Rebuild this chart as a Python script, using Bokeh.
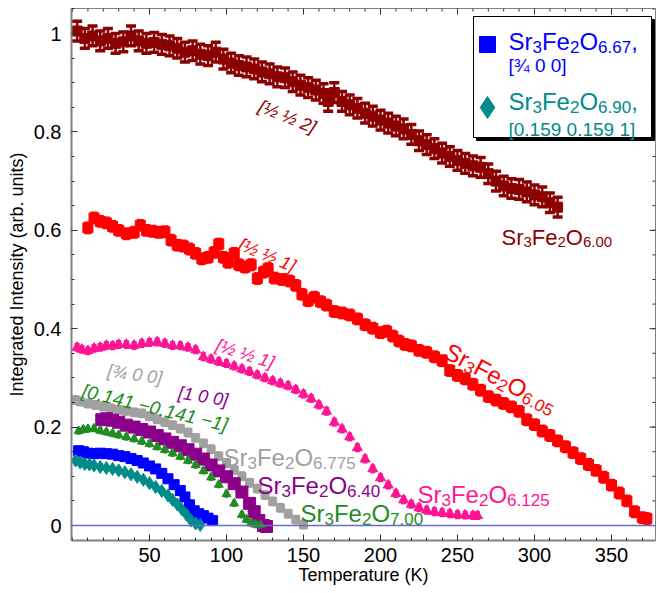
import math
from bokeh.plotting import figure
from bokeh.models import Range1d, FixedTicker, Span
from bokeh.core.properties import value
from bokeh.embed import file_html
from bokeh.resources import INLINE

# ---------------- data ----------------
t_600 = [3, 8, 13, 18, 23, 28, 33, 38, 43, 48, 53, 58, 63, 68, 73, 78, 83, 88, 93, 98,
         103, 108, 113, 118, 123, 128, 133, 138, 143, 148, 153, 158, 163, 166, 170, 175,
         180, 185, 190, 195, 200, 205, 210, 215, 220, 225, 230, 235, 240, 245, 250, 255,
         260, 265, 270, 275, 280, 285, 290, 295, 300, 305, 310, 315]
i_600 = [1.005, 0.99, 0.995, 0.985, 0.99, 0.98, 0.983, 0.995, 0.985, 0.98, 0.982, 0.978,
         0.975, 0.97, 0.962, 0.965, 0.958, 0.955, 0.962, 0.948, 0.94, 0.935, 0.932, 0.928,
         0.922, 0.918, 0.912, 0.91, 0.902, 0.895, 0.89, 0.885, 0.878, 0.862, 0.88, 0.862,
         0.855, 0.848, 0.838, 0.832, 0.824, 0.818, 0.812, 0.806, 0.795, 0.782, 0.774, 0.766,
         0.757, 0.75, 0.742, 0.736, 0.731, 0.728, 0.715, 0.70, 0.69, 0.685, 0.683, 0.678,
         0.672, 0.668, 0.656, 0.647]
e_600 = 0.02

t_605 = [10, 14, 18, 22, 26, 30, 35, 40, 44, 48, 52, 56, 60, 64, 68, 72, 76, 80, 84, 88,
         92, 95, 98, 101, 105, 108, 112, 116, 120, 124, 127, 131, 136, 141, 145, 149, 153,
         157, 161, 165, 170, 175, 180, 185, 190, 195, 200, 204, 208, 212, 216, 220, 225,
         230, 235, 240, 245, 250, 255, 260, 265, 270, 275, 280, 285, 290, 295, 300, 305,
         310, 315, 320, 325, 330, 335, 340, 345, 350, 355, 360, 365, 370, 373]
i_605 = [0.605, 0.625, 0.618, 0.615, 0.608, 0.600, 0.593, 0.596, 0.610, 0.600, 0.598,
         0.596, 0.597, 0.580, 0.570, 0.568, 0.562, 0.553, 0.542, 0.545, 0.555, 0.572,
         0.545, 0.535, 0.553, 0.530, 0.525, 0.530, 0.502, 0.515, 0.522, 0.503, 0.500,
         0.497, 0.488, 0.470, 0.457, 0.464, 0.455, 0.448, 0.435, 0.432, 0.428, 0.420,
         0.408, 0.401, 0.392, 0.395, 0.385, 0.375, 0.368, 0.365, 0.356, 0.352, 0.343,
         0.335, 0.315, 0.305, 0.298, 0.287, 0.275, 0.262, 0.255, 0.248, 0.241, 0.232,
         0.215, 0.205, 0.192, 0.183, 0.172, 0.160, 0.148, 0.136, 0.124, 0.112, 0.098,
         0.082, 0.066, 0.050, 0.028, 0.016, 0.014]
e_605 = 0.01

t_6125 = [3, 6, 10, 14, 18, 22, 26, 30, 35, 40, 45, 50, 55, 60, 65, 70, 75, 80, 85, 90,
          95, 100, 105, 110, 115, 120, 125, 130, 135, 140, 145, 150, 155, 160, 165, 170,
          175, 180, 185, 190, 195, 200, 205, 210, 215, 220, 225, 230, 235, 240, 245, 250,
          255, 260, 263]
i_6125 = [0.362, 0.358, 0.355, 0.360, 0.362, 0.366, 0.365, 0.368, 0.368, 0.366, 0.370,
          0.372, 0.373, 0.370, 0.366, 0.365, 0.362, 0.357, 0.343, 0.338, 0.333, 0.329,
          0.324, 0.318, 0.313, 0.306, 0.300, 0.294, 0.289, 0.284, 0.276, 0.267, 0.258,
          0.245, 0.232, 0.210, 0.196, 0.180, 0.158, 0.135, 0.115, 0.097, 0.082, 0.065,
          0.052, 0.043, 0.036, 0.031, 0.028, 0.026, 0.024, 0.022, 0.021, 0.020, 0.020]
e_6125 = 0.006

t_6775 = [2, 5, 10, 15, 20, 25, 30, 35, 40, 45, 50, 55, 60, 65, 70, 75, 80, 85, 90, 95,
          100, 105, 110, 115, 120, 125, 130, 135, 140, 145, 150]
i_6775 = [0.255, 0.252, 0.248, 0.245, 0.242, 0.238, 0.235, 0.233, 0.230, 0.228, 0.222,
          0.216, 0.210, 0.204, 0.197, 0.189, 0.178, 0.167, 0.155, 0.141, 0.127, 0.113,
          0.100, 0.087, 0.075, 0.062, 0.049, 0.036, 0.024, 0.012, 0.002]
e_6775 = 0.007

t_640 = [19, 22, 26, 30, 35, 40, 45, 50, 55, 60, 65, 70, 75, 80, 85, 90, 95, 100, 105,
         110, 115, 118, 121, 124, 126]
i_640 = [0.215, 0.217, 0.214, 0.210, 0.204, 0.200, 0.195, 0.190, 0.183, 0.176, 0.169,
         0.162, 0.154, 0.145, 0.135, 0.123, 0.111, 0.099, 0.085, 0.068, 0.045, 0.028,
         0.010, 0.000, -0.002]

t_700 = [4, 7, 10, 14, 18, 22, 26, 30, 35, 40, 45, 50, 55, 60, 65, 70, 75, 80, 85, 90,
         95, 100, 105, 110, 113, 116, 119, 122]
i_700 = [0.192, 0.195, 0.196, 0.197, 0.193, 0.190, 0.187, 0.184, 0.180, 0.176, 0.171,
         0.166, 0.160, 0.154, 0.147, 0.140, 0.132, 0.123, 0.111, 0.098, 0.083, 0.064,
         0.045, 0.022, 0.012, 0.005, 0.002, 0.001]
e_700 = 0.005

t_667 = [4, 7, 10, 14, 18, 22, 26, 30, 34, 38, 42, 46, 50, 54, 58, 62, 66, 70, 73, 76,
         79, 82, 85, 88, 91]
i_667 = [0.152, 0.150, 0.147, 0.146, 0.147, 0.146, 0.145, 0.142, 0.140, 0.136, 0.132,
         0.127, 0.121, 0.115, 0.106, 0.095, 0.083, 0.071, 0.058, 0.042, 0.030, 0.024,
         0.020, 0.015, 0.010]

t_690 = [2, 5, 8, 11, 14, 18, 22, 26, 30, 34, 38, 42, 46, 50, 54, 58, 62, 65, 68, 71,
         74, 77, 80, 83]
i_690 = [0.132, 0.128, 0.125, 0.124, 0.122, 0.119, 0.117, 0.115, 0.112, 0.108, 0.104,
         0.099, 0.093, 0.086, 0.078, 0.070, 0.061, 0.052, 0.043, 0.033, 0.022, 0.010,
         0.004, 0.001]

x_ticks = [50, 100, 150, 200, 250, 300, 350]
x_minor = list(range(0, 380, 10))
y_ticks = [0, 0.2, 0.4, 0.6, 0.8, 1.0]
y_minor = [round(0.05 * k, 2) for k in range(22)]

# ---------------- figure ----------------
FONT = "Liberation Sans"

def dx(px):
    return (px - 72) / 1.54

def dy(py):
    return (525 - py) / 492

X0, X1, Y0, Y1 = dx(71), dx(655), dy(540), dy(8)

p = figure(width=657, height=593, output_backend="svg", toolbar_location=None,
           x_range=Range1d(X0, X1), y_range=Range1d(Y0, Y1),
           min_border_left=71, min_border_right=2, min_border_top=8, min_border_bottom=53,
           background_fill_color="white", border_fill_color="white")
p.grid.visible = False
p.outline_line_color = "#808080"
p.outline_line_width = 1

xt = FixedTicker(ticks=x_ticks, minor_ticks=x_minor)
yt = FixedTicker(ticks=y_ticks, minor_ticks=y_minor)

for ax in (p.xaxis[0], p.yaxis[0]):
    ax.axis_line_color = "#808080"
    ax.axis_line_width = 2
    ax.major_tick_in = 6
    ax.major_tick_out = 0
    ax.minor_tick_in = 3
    ax.minor_tick_out = 0
    ax.major_tick_line_color = "#303030"
    ax.minor_tick_line_color = "#303030"
    ax.major_label_text_font = FONT
    ax.major_label_text_font_size = "20px"
    ax.major_label_text_color = "black"
    ax.axis_label_text_font = FONT
    ax.axis_label_text_font_size = "18px"
    ax.axis_label_text_font_style = "normal"
    ax.axis_label_text_color = "black"

p.xaxis.ticker = xt
p.yaxis.ticker = yt
p.xaxis.axis_label = "Temperature (K)"
p.yaxis.axis_label = "Integrated Intensity (arb. units)"
p.xaxis.major_label_standoff = 7
p.xaxis.axis_label_standoff = 0
p.yaxis.major_label_standoff = 10
p.yaxis.axis_label_standoff = 4
p.yaxis.major_label_overrides = {0: "0", 1: "1"}

# inward ticks on the top and right frame edges
tick_col = "#303030"
p.segment(x_ticks, [Y1] * len(x_ticks), x_ticks, [Y1 - 6 / 492] * len(x_ticks),
          line_color=tick_col, line_width=1)
p.segment(x_minor, [Y1] * len(x_minor), x_minor, [Y1 - 3 / 492] * len(x_minor),
          line_color=tick_col, line_width=1)
p.segment([X1] * len(y_ticks), y_ticks, [X1 - 6 / 1.54] * len(y_ticks), y_ticks,
          line_color=tick_col, line_width=1)
p.segment([X1] * len(y_minor), y_minor, [X1 - 3 / 1.54] * len(y_minor), y_minor,
          line_color=tick_col, line_width=1)

p.add_layout(Span(location=0, dimension="width", line_color="#6a6ac8", line_width=1.5))

# ---------------- series ----------------
def series(t, v, color, marker, size, err=None, cap=0, lw=2):
    if err:
        lo = [a - err for a in v]
        hi = [a + err for a in v]
        p.segment(t, lo, t, hi, line_color=color, line_width=lw)
        if cap:
            p.scatter(t, hi, marker="dash", size=cap, line_color=color, line_width=lw + 1)
            p.scatter(t, lo, marker="dash", size=cap, line_color=color, line_width=lw + 1)
    p.scatter(t, v, marker=marker, size=size, fill_color=color, line_color=color)

C600, C605, C6125 = "#8B0000", "#FF0000", "#FF1493"
C6775, C640, C700 = "#A0A0A0", "#8B008B", "#228B22"
C667, C690 = "#0000FF", "#008B8B"

series(t_600, i_600, C600, "square", 10, err=e_600, cap=10, lw=2.5)
series(t_605, i_605, C605, "square", 10, err=e_605, cap=7, lw=2)
series(t_6125, i_6125, C6125, "triangle", 10, err=e_6125, cap=5, lw=2)
series(t_6775, i_6775, C6775, "square", 8, err=e_6775, cap=6, lw=2)
series(t_640, i_640, C640, "square", 12)
series(t_700, i_700, C700, "triangle", 9, err=e_700, cap=4, lw=1.5)
series(t_667, i_667, C667, "square", 10)
series(t_690, i_690, C690, "diamond", 13)

# ---------------- text helpers ----------------
CW = {"S": 0.667, "r": 0.333, "F": 0.611, "e": 0.556, "O": 0.778, ".": 0.278,
      ",": 0.278, " ": 0.278, "[": 0.278, "]": 0.278, "\u00bd": 0.834, "\u00be": 0.834,
      "\u2212": 0.584}

def tw(s, size):
    return sum(CW.get(c, 0.556) for c in s) * size

def rich(x, y, pieces, color, angle=0.0, style="normal"):
    a = math.radians(angle)
    groups = {}
    adv = 0.0
    for s, size, drop in pieces:
        g = groups.setdefault(size, dict(x=[], y=[], text=[], xo=[], yo=[]))
        g["x"].append(x)
        g["y"].append(y)
        g["text"].append(s)
        g["xo"].append(adv * math.cos(a) + drop * math.sin(a))
        g["yo"].append(-adv * math.sin(a) + drop * math.cos(a))
        adv += tw(s, size)
    for size, g in groups.items():
        p.text(x=g["x"], y=g["y"], text=g["text"], x_offset=g["xo"], y_offset=g["yo"],
               text_font_size=f"{size}px", angle=a, text_color=color,
               text_font=value(FONT), text_font_style=style, text_align="left",
               text_baseline="alphabetic")

def formula(x, y, sub, color, angle=0.0, F=24, s=17, tail=""):
    dr = 0.22 * F
    pieces = [("Sr", F, 0), ("3", s, dr), ("Fe", F, 0), ("2", s, dr), ("O", F, 0),
              (sub, s, dr)]
    if tail:
        pieces.append((tail, F, 0))
    rich(x, y, pieces, color, angle)

def hkl(x, y, txt, color, angle, size=18):
    rich(x, y, [(txt, size, 0)], color, angle, style="italic")

# formula labels
formula(dx(501), dy(237), "6.00", C600, F=22, s=15)
formula(dx(446), dy(349), "6.05", C605, angle=-28)
formula(dx(417), dy(494), "6.125", C6125)
formula(dx(223), dy(457), "6.775", C6775)
formula(dx(257), dy(485), "6.40", C640)
formula(dx(300), dy(513), "7.00", C700)

# reflection labels
hkl(dx(259), dy(105), "[\u00bd \u00bd 2]", C600, -22, 18)
hkl(dx(239), dy(243), "[\u00bd \u00bd 1]", C605, -23, 18)
hkl(dx(216), dy(344), "[\u00bd \u00bd 1]", C6125, -18, 18)
hkl(dx(107), dy(370), "[\u00be 0 0]", C6775, -8, 18)
hkl(dx(178), dy(392), "[1 0 0]", C640, -9, 18)
hkl(dx(82), dy(390), "[0.141 \u22120.141 \u22121]", C700, -13.5, 19)

# ---------------- legend box ----------------
p.quad(left=[dx(476)], right=[dx(654)], top=[dy(19)], bottom=[dy(140)],
       fill_color="black", line_color="black")
p.quad(left=[dx(473)], right=[dx(651)], top=[dy(16)], bottom=[dy(137)],
       fill_color="white", line_color="black", line_width=1)
p.scatter([dx(487)], [dy(44)], marker="square", size=16, fill_color=C667, line_color=C667)
p.scatter([dx(487)], [dy(107)], marker="diamond", size=22, fill_color=C690, line_color=C690)
formula(dx(508), dy(41), "6.67", C667, tail=",")
rich(dx(508), dy(65), [("[\u00be 0 0]", 19, 0)], C667)
formula(dx(508), dy(101), "6.90", C690, tail=",")
rich(dx(508), dy(129), [("[0.159 0.159 1]", 19, 0)], C690)

open("out.html", "w").write(file_html(p, INLINE))
